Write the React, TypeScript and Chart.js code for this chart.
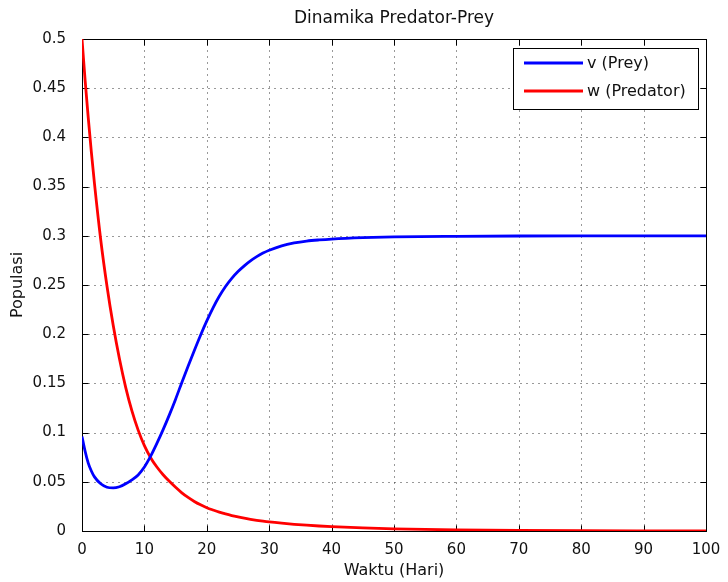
import { useEffect, useRef } from "react";
import { Chart, registerables } from "chart.js";

Chart.register(...registerables);

// Simulation output: time (days) and population of prey (v) and predator (w)
const times = [
  0, 0.5, 1, 1.5, 2, 3, 4, 5, 6, 7, 8, 9, 10, 11, 12, 13, 14, 15, 16, 17, 18, 19, 20,
  21, 22, 23, 24, 25, 26, 27, 28, 29, 30, 32, 34, 36, 38, 40, 45, 50, 60, 70, 80, 90, 100,
];
const prey = [
  0.096, 0.081, 0.069, 0.061, 0.055, 0.048, 0.0445, 0.0438, 0.045, 0.048, 0.052, 0.057, 0.065,
  0.076, 0.089, 0.103, 0.118, 0.134, 0.151, 0.1675, 0.1835, 0.199, 0.2135, 0.2268, 0.2385,
  0.2485, 0.2568, 0.2637, 0.2695, 0.2745, 0.2788, 0.2824, 0.2853, 0.2898, 0.2927, 0.2946,
  0.2958, 0.2967, 0.2981, 0.2989, 0.2995, 0.2998, 0.2999, 0.3, 0.3,
];
const predator = [
  0.5, 0.458, 0.42, 0.385, 0.353, 0.296, 0.249, 0.209, 0.175, 0.146, 0.122, 0.1025, 0.0868,
  0.0745, 0.065, 0.0572, 0.0505, 0.0444, 0.0388, 0.0341, 0.03, 0.0266, 0.0237, 0.0213,
  0.0191, 0.0173, 0.0157, 0.0143, 0.013, 0.0119, 0.0109, 0.01, 0.0092, 0.0079, 0.0068,
  0.0059, 0.0051, 0.0044, 0.0031, 0.0022, 0.0011, 0.00055, 0.00027, 0.00014, 0.00007,
];

const xTicks = [0, 10, 20, 30, 40, 50, 60, 70, 80, 90, 100];
const xTickLabels = ["0", "10", "20", "30", "40", "50", "60", "70", "80", "90", "100"];
const yTicks = [0, 0.05, 0.1, 0.15, 0.2, 0.25, 0.3, 0.35, 0.4, 0.45, 0.5];
const yTickLabels = ["0", "0.05", "0.1", "0.15", "0.2", "0.25", "0.3", "0.35", "0.4", "0.45", "0.5"];

const seriesLabels = ["v (Prey)", "w (Predator)"];
const seriesColors = ["#0000ff", "#ff0000"];
const chartTitle = "Dinamika Predator-Prey";
const xTitle = "Waktu (Hari)";
const yTitle = "Populasi";

const FONT = "'DejaVu Sans', 'Liberation Sans', Arial, sans-serif";
const LINE_WIDTH = 2.8;

// Axes box, dotted grid, inward ticks, legend and titles in a classic plot style
const framePlugin = {
  id: "frame",
  beforeDatasetsDraw(chart: any) {
    const { ctx, chartArea } = chart;
    const { left, right, top, bottom } = chartArea;
    const xs = chart.scales.x;
    const ys = chart.scales.y;
    const L = Math.round(left) + 0.5;
    const R = Math.round(right) + 0.5;
    const T = Math.round(top) + 0.5;
    const B = Math.round(bottom) + 0.5;

    ctx.save();
    // dotted grid
    ctx.strokeStyle = "#333";
    ctx.lineWidth = 1;
    ctx.setLineDash([1, 5]);
    xTicks.forEach((v) => {
      const px = Math.round(xs.getPixelForValue(v)) + 0.5;
      if (Math.abs(px - L) < 2 || Math.abs(px - R) < 2) return;
      ctx.beginPath();
      ctx.moveTo(px, B);
      ctx.lineTo(px, T);
      ctx.stroke();
    });
    yTicks.forEach((v) => {
      const py = Math.round(ys.getPixelForValue(v)) + 0.5;
      if (Math.abs(py - T) < 2 || Math.abs(py - B) < 2) return;
      ctx.beginPath();
      ctx.moveTo(L, py);
      ctx.lineTo(R, py);
      ctx.stroke();
    });
    ctx.setLineDash([]);

    // box
    ctx.strokeStyle = "#000";
    ctx.strokeRect(L, T, R - L, B - T);

    // inward ticks on all four sides
    const tl = 6;
    ctx.beginPath();
    xTicks.forEach((v) => {
      const px = Math.round(xs.getPixelForValue(v)) + 0.5;
      ctx.moveTo(px, B);
      ctx.lineTo(px, B - tl);
      ctx.moveTo(px, T);
      ctx.lineTo(px, T + tl);
    });
    yTicks.forEach((v) => {
      const py = Math.round(ys.getPixelForValue(v)) + 0.5;
      ctx.moveTo(L, py);
      ctx.lineTo(L + tl, py);
      ctx.moveTo(R, py);
      ctx.lineTo(R - tl, py);
    });
    ctx.stroke();
    ctx.restore();
  },
  afterDatasetsDraw(chart: any) {
    const { ctx, chartArea } = chart;
    const cx = (chartArea.left + chartArea.right) / 2;
    const cy = (chartArea.top + chartArea.bottom) / 2;
    ctx.save();
    ctx.fillStyle = "#111";

    // title
    ctx.font = `17px ${FONT}`;
    ctx.textAlign = "center";
    ctx.textBaseline = "alphabetic";
    ctx.fillText(chartTitle, cx, 23);

    // axis titles
    ctx.font = `16px ${FONT}`;
    ctx.fillText(xTitle, cx, 575);
    ctx.save();
    ctx.translate(22, cy);
    ctx.rotate(-Math.PI / 2);
    ctx.fillText(yTitle, 0, 0);
    ctx.restore();

    // legend
    const bx = 513.5;
    const by = 48.5;
    const bw = 185;
    const bh = 61;
    ctx.fillStyle = "#fff";
    ctx.fillRect(bx, by, bw, bh);
    ctx.strokeStyle = "#000";
    ctx.lineWidth = 1;
    ctx.strokeRect(bx, by, bw, bh);
    const rowY = [63, 91];
    chart.data.datasets.forEach((ds: any, i: number) => {
      ctx.strokeStyle = ds.borderColor;
      ctx.lineWidth = LINE_WIDTH;
      ctx.beginPath();
      ctx.moveTo(524, rowY[i]);
      ctx.lineTo(583, rowY[i]);
      ctx.stroke();
      ctx.fillStyle = "#111";
      ctx.font = `16px ${FONT}`;
      ctx.textAlign = "left";
      ctx.textBaseline = "middle";
      ctx.fillText(ds.label, 587, rowY[i] + 1);
    });
    ctx.restore();
  },
};

export default function App() {
  const ref = useRef<HTMLCanvasElement | null>(null);

  useEffect(() => {
    if (!ref.current) return;
    const datasets = [prey, predator].map((vals, k) => ({
      label: seriesLabels[k],
      data: times.map((t, i) => ({ x: t, y: vals[i] })),
      borderColor: seriesColors[k],
      backgroundColor: seriesColors[k],
      borderWidth: LINE_WIDTH,
      pointRadius: 0,
      fill: false,
      cubicInterpolationMode: "monotone" as const,
    }));

    const chart = new Chart(ref.current, {
      type: "line",
      data: { datasets },
      options: {
        animation: false,
        responsive: false,
        layout: { padding: { left: 0, top: 39, right: 22, bottom: 0 } },
        plugins: {
          legend: { display: false },
          title: { display: false },
          tooltip: { enabled: false },
        },
        scales: {
          x: {
            type: "linear",
            min: 0,
            max: 100,
            grid: { display: false },
            border: { display: false },
            afterBuildTicks: (s: any) => {
              s.ticks = xTicks.map((v) => ({ value: v }));
            },
            afterFit: (s: any) => {
              s.height = 51;
            },
            ticks: {
              autoSkip: false,
              maxRotation: 0,
              padding: 2,
              color: "#111",
              font: { family: FONT, size: 15 },
              callback: (_v: any, i: number) => xTickLabels[i],
            },
          },
          y: {
            type: "linear",
            min: 0,
            max: 0.5,
            grid: { display: false },
            border: { display: false },
            afterBuildTicks: (s: any) => {
              s.ticks = yTicks.map((v) => ({ value: v }));
            },
            afterFit: (s: any) => {
              s.width = 82;
            },
            ticks: {
              autoSkip: false,
              padding: 8,
              color: "#111",
              font: { family: FONT, size: 15 },
              callback: (_v: any, i: number) => yTickLabels[i],
            },
          },
        },
      },
      plugins: [framePlugin],
    });
    return () => chart.destroy();
  }, []);

  return (
    <div style={{ position: "fixed", left: 0, top: 0, width: 728, height: 582, background: "#fff" }}>
      <canvas ref={ref} width={728} height={582} style={{ display: "block" }} />
    </div>
  );
}
